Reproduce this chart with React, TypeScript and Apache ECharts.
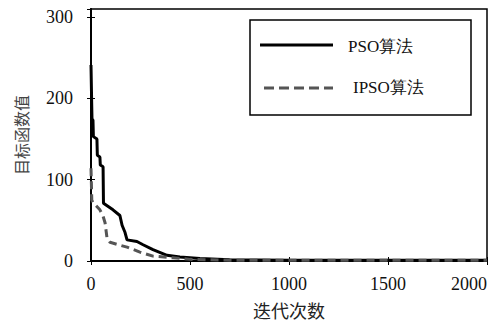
import React, { useEffect, useRef } from "react";
import * as echarts from "echarts";

const psoIter = [0, 3, 5, 10, 12, 30, 32, 45, 47, 61, 63, 111, 146, 157, 172, 182, 232, 263, 313, 384, 449, 550, 700, 1000, 2000];
const psoVal = [241, 200, 175, 173, 153, 150, 130, 128, 118, 116, 71, 63, 56, 44, 35, 26, 24, 20, 14, 7, 5, 3, 1.5, 1, 1];
const ipsoIter = [0, 2, 4, 10, 45, 61, 71, 81, 96, 182, 247, 313, 414, 500, 700, 2000];
const ipsoVal = [114, 95, 75, 72, 63, 55, 47, 28, 23, 17, 11, 6, 4, 2, 1, 1];

const xTicks = [0, 500, 1000, 1500, 2000];
const yTicks = [0, 100, 200, 300];
const seriesNames = ["PSO算法", "IPSO算法"];

const serif = "Liberation Serif";
const cjk = "Noto Sans CJK SC";

export default function App() {
  const ref = useRef<HTMLDivElement>(null);
  useEffect(() => {
    if (!ref.current) return;
    const chart = echarts.init(ref.current, undefined, { renderer: "svg" });
    const pso = psoIter.map((x, i) => [x, psoVal[i]]);
    const ipso = ipsoIter.map((x, i) => [x, ipsoVal[i]]);
    const yFmt = (v: number) => (yTicks.includes(v) ? String(v) : "");
    const xFmt = (v: number) => (xTicks.includes(v) ? String(v) : "");
    chart.setOption({
      animation: false,
      backgroundColor: "#fff",
      grid: { left: 91, right: 7, top: 9, bottom: 64, show: true, borderColor: "#000", borderWidth: 1.5 },
      graphic: [
        {
          type: "rect",
          shape: { x: 250, y: 20, width: 221, height: 95 },
          style: { fill: "#fff", stroke: "#000", lineWidth: 1.5 },
          z: 10,
        },
        {
          type: "line",
          shape: { x1: 260, y1: 45, x2: 333, y2: 45 },
          style: { stroke: "#000", lineWidth: 3 },
          z: 11,
        },
        {
          type: "text",
          x: 348,
          y: 46,
          style: { text: seriesNames[0], fill: "#111", fontFamily: serif, fontSize: 17, verticalAlign: "middle" },
          z: 11,
        },
        {
          type: "line",
          shape: { x1: 264, y1: 88, x2: 333, y2: 88 },
          style: { stroke: "#555", lineWidth: 3, lineDash: [10, 5] },
          z: 11,
        },
        {
          type: "text",
          x: 353,
          y: 87,
          style: { text: seriesNames[1], fill: "#111", fontFamily: serif, fontSize: 17, verticalAlign: "middle" },
          z: 11,
        },
      ],
      xAxis: [
        {
          type: "value",
          min: 0,
          max: 2000,
          interval: 500,
          name: "迭代次数",
          nameLocation: "middle",
          nameGap: 40,
          nameTextStyle: { fontFamily: cjk, fontSize: 18, color: "#222" },
          axisLine: { show: true, lineStyle: { color: "#000", width: 2 } },
          axisTick: { show: true, inside: true, length: 4, lineStyle: { color: "#000" } },
          axisLabel: { formatter: xFmt, margin: 14, alignMaxLabel: "right", fontFamily: serif, fontSize: 18, color: "#111" },
          splitLine: { show: false },
        },
        {
          type: "value",
          position: "top",
          min: 0,
          max: 2000,
          interval: 500,
          axisLine: { show: true, lineStyle: { color: "#000", width: 1.5 } },
          axisTick: { show: true, inside: true, length: 4, lineStyle: { color: "#000" } },
          axisLabel: { show: false },
          splitLine: { show: false },
        },
      ],
      yAxis: [
        {
          type: "value",
          min: 0,
          max: 310,
          interval: 100,
          name: "目标函数值",
          nameLocation: "middle",
          nameGap: 62,
          nameTextStyle: { fontFamily: cjk, fontSize: 16, color: "#444" },
          axisLine: { show: true, lineStyle: { color: "#000", width: 2 } },
          axisTick: { show: true, inside: true, length: 4, lineStyle: { color: "#000" } },
          axisLabel: { formatter: yFmt, margin: 18, showMaxLabel: false, fontFamily: serif, fontSize: 18, color: "#111" },
          splitLine: { show: false },
        },
        {
          type: "value",
          position: "right",
          min: 0,
          max: 310,
          interval: 100,
          axisLine: { show: true, lineStyle: { color: "#000", width: 1.5 } },
          axisTick: { show: true, inside: true, length: 4, lineStyle: { color: "#000" } },
          axisLabel: { show: false },
          splitLine: { show: false },
        },
      ],
      series: [
        {
          name: seriesNames[0],
          type: "line",
          data: pso,
          symbol: "none",
          lineStyle: { color: "#000", width: 3, type: "solid" },
          itemStyle: { color: "#000" },
        },
        {
          name: seriesNames[1],
          type: "line",
          data: ipso,
          symbol: "none",
          lineStyle: { color: "#555", width: 3, type: [8, 5] },
          itemStyle: { color: "#555" },
        },
      ],
    });
    return () => chart.dispose();
  }, []);
  return <div ref={ref} style={{ width: 494, height: 325, position: "absolute", left: 0, top: 0 }} />;
}
